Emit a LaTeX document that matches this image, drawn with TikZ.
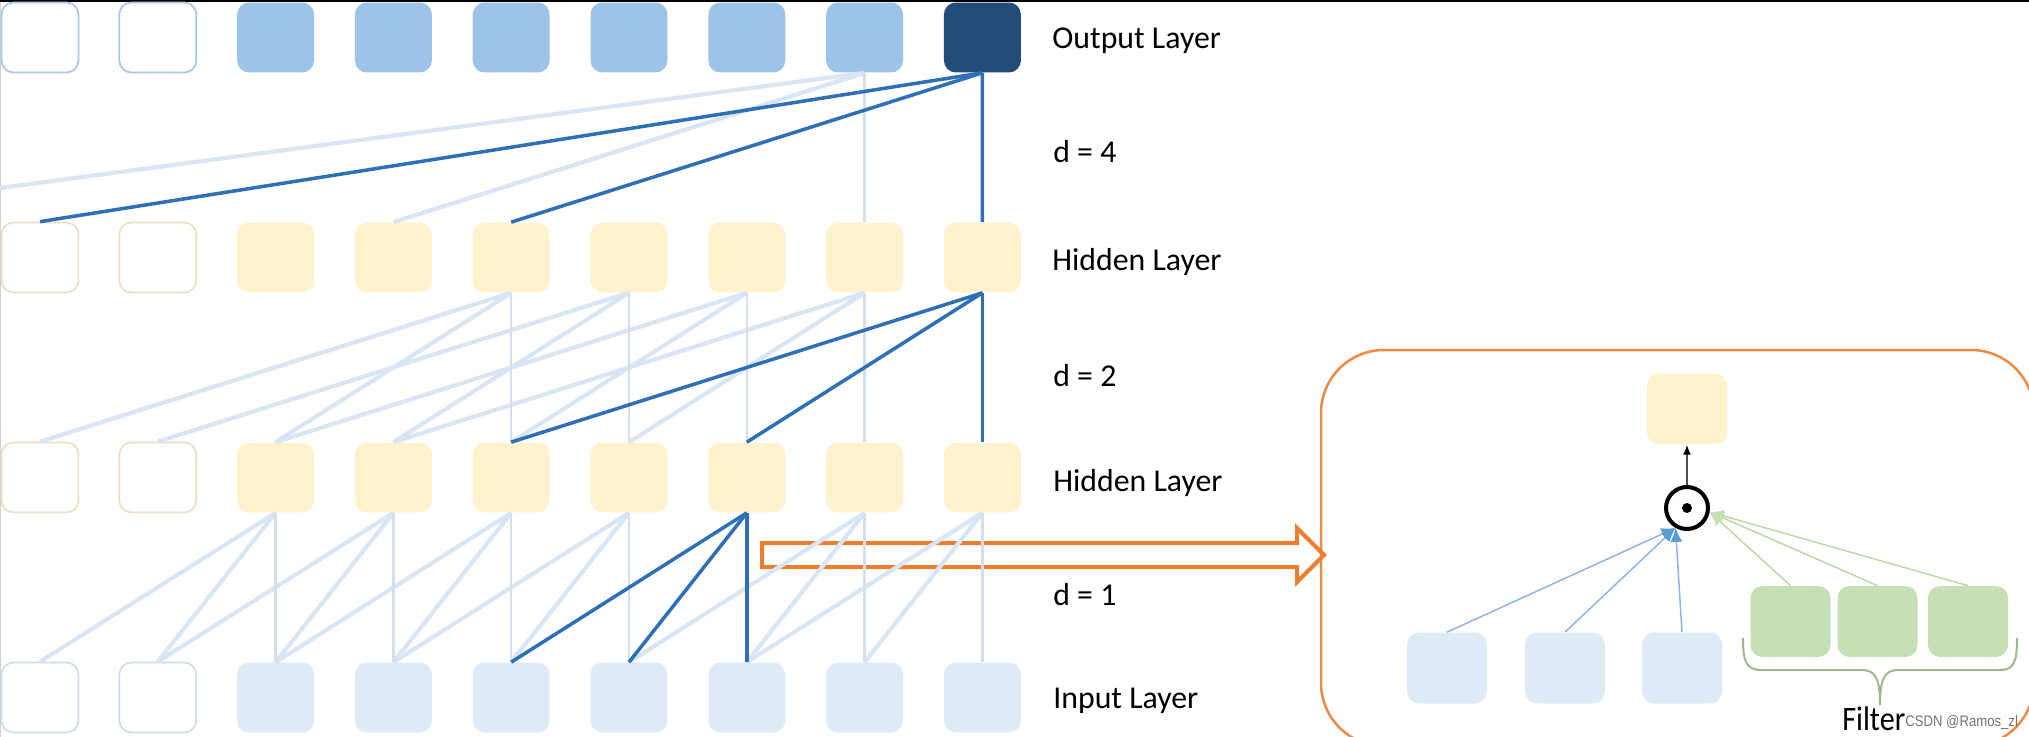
\documentclass[tikz,border=0pt]{standalone}
\usepackage{fontspec}
\setmainfont{Carlito}
\newfontfamily\wmfont{Liberation Sans}
\usetikzlibrary{arrows.meta}
\definecolor{outblue}{HTML}{9DC3E6}
\definecolor{outdark}{HTML}{234C78}
\definecolor{hidyel}{HTML}{FFF2CC}
\definecolor{inblue}{HTML}{DEEBF7}
\definecolor{filgreen}{HTML}{C5E0B4}
\definecolor{darkln}{HTML}{2E6FB5}
\definecolor{lightln}{HTML}{D8E5F4}
\definecolor{lightv}{HTML}{D5DFEB}
\definecolor{orng}{HTML}{ED7D31}
\definecolor{outedge}{HTML}{A9C8E8}
\definecolor{hidedge}{HTML}{EADFC5}
\definecolor{inedge}{HTML}{CFDCEA}
\definecolor{pblue}{HTML}{8EB4E3}
\definecolor{pbluehead}{HTML}{5B9BD5}
\definecolor{pgreen}{HTML}{B9D9A6}
\definecolor{bracecol}{HTML}{9DB88B}
\tikzset{
  box/.style={rectangle, rounded corners=0.24cm, minimum width=1.54cm, minimum height=1.4cm, inner sep=0pt},
  pbox/.style={rectangle, rounded corners=0.24cm, minimum width=1.6cm, minimum height=1.42cm, inner sep=0pt},
  outbox/.style={box, fill=outblue},
  outempty/.style={box, draw=outedge, line width=1pt, fill=white},
  hidbox/.style={box, fill=hidyel},
  hidempty/.style={box, draw=hidedge, line width=1pt, fill=white},
  inbox/.style={box, fill=inblue},
  inempty/.style={box, draw=inedge, line width=1pt, fill=white},
  lt/.style={draw=lightln, line width=2.4pt},
  ltv/.style={draw=lightv, line width=1.42pt},
  dk/.style={draw=darkln, line width=2pt},
  lbl/.style={anchor=base west, inner sep=0pt, font=\fontsize{18.1pt}{21pt}\selectfont},
}
\begin{document}
\begin{tikzpicture}[x=0.02cm, y=-0.02cm]
\useasboundingbox (0,0) rectangle (2029,737);
\clip (0,0) rectangle (2029,737);
% frame lines
\fill[black] (0,0) rectangle (2029,2.5);
\draw[black!18, line width=0.6pt] (0.5,2.5) -- (0.5,737);
% panel
\draw[orng!90, line width=1.42pt, rounded corners=1.26cm] (1321,350) rectangle (2034,746);
% layer nodes
\foreach \i in {1,2} {
  \pgfmathsetmacro{\xx}{40+117.8*(\i-1)}
  \node[outempty] (o\i) at (\xx,37.5) {};
  \node[hidempty] (a\i) at (\xx,257.5) {};
  \node[hidempty] (b\i) at (\xx,477.5) {};
  \node[inempty] (c\i) at (\xx,697.5) {};
}
\foreach \i in {3,...,9} {
  \pgfmathsetmacro{\xx}{40+117.8*(\i-1)}
  \node[hidbox] (a\i) at (\xx,257.5) {};
  \node[hidbox] (b\i) at (\xx,477.5) {};
  \node[inbox] (c\i) at (\xx,697.5) {};
}
\foreach \i in {3,...,8} {
  \pgfmathsetmacro{\xx}{40+117.8*(\i-1)}
  \node[outbox] (o\i) at (\xx,37.5) {};
}
\node[box, fill=outdark] (o9) at (982.4,37.5) {};
% orange arrow
\draw[orng, line width=2.27pt, line join=miter]
  (762,543) -- (1297,543) -- (1297,528) -- (1324,555) -- (1297,582) -- (1297,567) -- (762,567) -- cycle;
% output -> hidden 1 (d = 4)
\coordinate (offl) at (0,188);
\draw[lt] (o8.south) -- (offl);
\draw[lt] (o8.south) -- (a4.north);
\draw[ltv] (o8.south) -- (a8.north);
\draw[dk] (o9.south) -- (a1.north);
\draw[dk] (o9.south) -- (a5.north);
\draw[dk] (o9.south) -- (a9.north);
% hidden 1 -> hidden 2 (d = 2)
\foreach \s/\t in {5/3,5/1,6/4,6/2,7/5,7/3,8/6,8/4}
  \draw[lt] (a\s.south) -- (b\t.north);
\foreach \s in {5,6,7,8}
  \draw[ltv] (a\s.south) -- (b\s.north);
\draw[dk] (a9.south) -- (b9.north);
\draw[dk] (a9.south) -- (b7.north);
\draw[dk] (a9.south) -- (b5.north);
% hidden 2 -> input (d = 1)
\foreach \s/\t in {3/2,3/1,4/3,4/2,5/4,5/3,6/5,6/4,8/7,8/6,9/8,9/7}
  \draw[lt] (b\s.south) -- (c\t.north);
\foreach \s in {3,4,5,6,8,9}
  \draw[ltv] (b\s.south) -- (c\s.north);
\draw[dk] (b7.south) -- (c7.north);
\draw[dk] (b7.south) -- (c6.north);
\draw[dk] (b7.south) -- (c5.north);
% labels
\node[lbl] (tOut) at (1052,49) {Output Layer};
\node[lbl] (tD4) at (1053,162) {d = 4};
\node[lbl] (tH1) at (1052,270) {Hidden Layer};
\node[lbl] (tD2) at (1053,386) {d = 2};
\node[lbl] (tH2) at (1053,491) {Hidden Layer};
\node[lbl] (tD1) at (1053,605) {d = 1};
\node[lbl] (tIn) at (1053,708) {Input Layer};
% panel content
\node[pbox, fill=hidyel] (py) at (1687,409) {};
\node[circle, draw=black, line width=2.27pt, minimum size=0.84cm, inner sep=0pt] (dot) at (1687,508) {};
\fill[black] (dot.center) circle (0.1cm);
\node[pbox, fill=inblue] (p1) at (1447,668) {};
\node[pbox, fill=inblue] (p2) at (1565,668) {};
\node[pbox, fill=inblue] (p3) at (1682,668) {};
\node[pbox, fill=filgreen] (g1) at (1790.5,621.5) {};
\node[pbox, fill=filgreen] (g2) at (1877.5,621.5) {};
\node[pbox, fill=filgreen] (g3) at (1968,621.5) {};
\draw[black!70, line width=0.85pt, -{Latex[length=5.5pt,width=4.5pt,color=black]}] (dot.north) -- (py.south);
\foreach \p in {p1,p2,p3}
  \draw[pblue, line width=0.85pt, -{Latex[length=8pt,width=7pt,color=pbluehead]}] (\p.north) -- (dot.240);
\foreach \g in {g1,g2,g3}
  \draw[pgreen, line width=0.85pt, -{Latex[length=8pt,width=7pt,color=filgreen]}] (\g.north) -- (dot.-10);
% brace
\draw[bracecol, line width=1.13pt]
  (1743,638) .. controls (1743,662) and (1746,670) .. (1762,670) -- (1862,670)
  .. controls (1876,670) and (1880,680) .. (1880,705)
  .. controls (1880,680) and (1884,670) .. (1898,670) -- (2000,670)
  .. controls (2014,670) and (2017,662) .. (2017,638);
\node[anchor=base west, inner sep=0pt, xscale=0.88, font=\fontsize{19.5pt}{22pt}\selectfont] (filt) at (1842,730) {Filter};
\node[anchor=base west, inner sep=0pt, xscale=0.86, text=black!55, font=\wmfont\fontsize{8.7pt}{10pt}\selectfont] (wm) at (1905,726) {CSDN @Ramos\_zl};
\end{tikzpicture}
\end{document}
